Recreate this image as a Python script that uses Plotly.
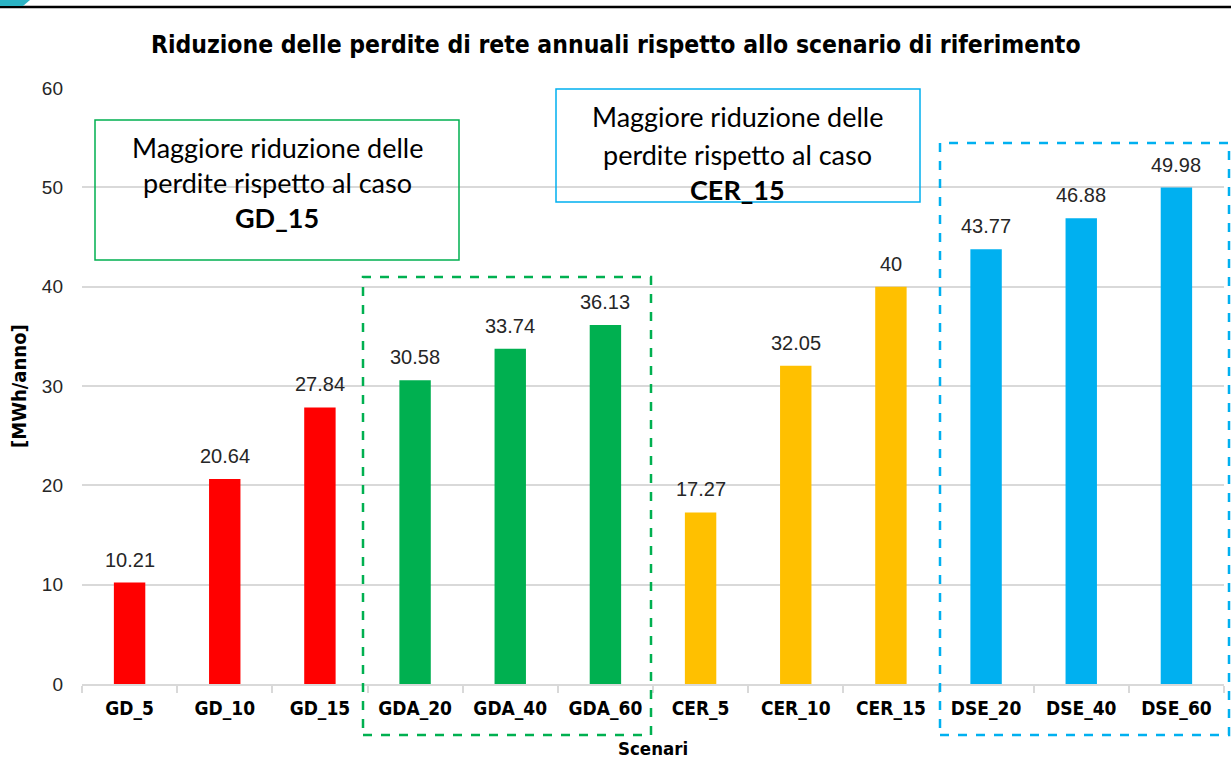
import plotly.graph_objects as go

categories = ["GD_5", "GD_10", "GD_15", "GDA_20", "GDA_40", "GDA_60",
              "CER_5", "CER_10", "CER_15", "DSE_20", "DSE_40", "DSE_60"]
values = [10.21, 20.64, 27.84, 30.58, 33.74, 36.13,
          17.27, 32.05, 40, 43.77, 46.88, 49.98]
value_labels = ["10.21", "20.64", "27.84", "30.58", "33.74", "36.13",
                "17.27", "32.05", "40", "43.77", "46.88", "49.98"]
bar_colors = ["#FF0000"] * 3 + ["#00B050"] * 3 + ["#FFC000"] * 3 + ["#00B0F0"] * 3
y_ticks = [0, 10, 20, 30, 40, 50, 60]

title_text = "Riduzione delle perdite di rete annuali rispetto allo scenario di riferimento"
y_title = "[MWh/anno]"
x_title = "Scenari"
green_note = ["Maggiore riduzione delle", "perdite rispetto al caso", "<b>GD_15</b>"]
blue_note = ["Maggiore riduzione delle", "perdite rispetto al caso", "<b>CER_15</b>"]

COND = "DejaVu Sans Condensed, Roboto, sans-serif"
CAL = "Lato, Carlito, Open Sans, sans-serif"
ARIAL = "Liberation Sans, Arial, sans-serif"

W, H = 1231, 783
L, R, T, B = 82, 7, 88, 99
PW, PH = W - L - R, H - T - B


def px(xp):
    return (xp - L) / PW


def py(yp):
    return (H - B - yp) / PH


fig = go.Figure()
fig.add_trace(go.Bar(
    x=categories, y=values, marker=dict(color=bar_colors, line=dict(width=0)),
    width=0.33, hoverinfo="x+y", showlegend=False,
))

annotations = []
for c, v, lab in zip(categories, values, value_labels):
    annotations.append(dict(
        x=c, y=v, xref="x", yref="y", text=lab, showarrow=False,
        yanchor="bottom", yshift=10,
        font=dict(family=ARIAL, size=20, color="#262626"),
    ))

for txt, yy in zip(green_note, [148, 183, 217]):
    annotations.append(dict(x=px(277), y=py(yy), xref="paper", yref="paper",
                            text=txt, showarrow=False, xanchor="center", yanchor="middle",
                            font=dict(family=CAL, size=27, color="#000000")))
for txt, yy in zip(blue_note, [117, 154, 189]):
    annotations.append(dict(x=px(738), y=py(yy), xref="paper", yref="paper",
                            text=txt, showarrow=False, xanchor="center", yanchor="middle",
                            font=dict(family=CAL, size=27, color="#000000")))

annotations.append(dict(x=px(19), y=0.5, xref="paper", yref="paper", text="<b>" + y_title + "</b>",
                        textangle=-90, showarrow=False, xanchor="center", yanchor="middle",
                        font=dict(family=COND, size=20, color="#000000")))
annotations.append(dict(x=0.5, y=py(748), xref="paper", yref="paper", text="<b>" + x_title + "</b>",
                        showarrow=False, xanchor="center", yanchor="middle",
                        font=dict(family=COND, size=18.5, color="#000000")))
annotations.append(dict(x=px(616), y=py(44), xref="paper", yref="paper", text="<b>" + title_text + "</b>",
                        showarrow=False, xanchor="center", yanchor="middle",
                        font=dict(family=COND, size=24.5, color="#000000")))

shapes = [
    dict(type="line", xref="paper", yref="paper", x0=px(0), x1=px(W), y0=py(7), y1=py(7),
         line=dict(color="#000000", width=2.5)),
    dict(type="path", xref="paper", yref="paper",
         path=f"M {px(0)},{py(0)} L {px(30)},{py(0)} L {px(23)},{py(6)} L {px(0)},{py(6)} Z",
         fillcolor="#2BB3C4", line=dict(width=0)),
    dict(type="rect", xref="paper", yref="paper", x0=px(95), x1=px(459), y0=py(260), y1=py(120),
         line=dict(color="#00B050", width=1.5)),
    dict(type="rect", xref="paper", yref="paper", x0=px(556), x1=px(920), y0=py(202), y1=py(89),
         line=dict(color="#00B0F0", width=1.5)),
    dict(type="rect", xref="paper", yref="paper", x0=px(363), x1=px(651), y0=py(735), y1=py(277),
         line=dict(color="#00B050", width=2.5, dash="dash")),
    dict(type="rect", xref="paper", yref="paper", x0=px(940), x1=px(1229), y0=py(735), y1=py(143),
         line=dict(color="#00B0F0", width=2.5, dash="dash")),
]

fig.update_layout(
    width=W, height=H,
    margin=dict(l=L, r=R, t=T, b=B, pad=0),
    paper_bgcolor="white", plot_bgcolor="white",
    annotations=annotations, shapes=shapes,
    bargap=0.67,
    xaxis=dict(
        type="category", showgrid=False, showline=True, linecolor="#D9D9D9", linewidth=2,
        ticks="outside", tickson="boundaries", ticklen=7, tickcolor="#D9D9D9", tickwidth=2,
        tickfont=dict(family=COND, size=19, color="#000000"),
        ticklabelstandoff=6, tickprefix="<b>", ticksuffix="</b>",
        range=[-0.5, 11.5], fixedrange=True,
    ),
    yaxis=dict(
        range=[0, 60], tickvals=y_ticks, showgrid=True, gridcolor="#D9D9D9", gridwidth=1.5,
        zeroline=False, showline=False, ticks="",
        tickfont=dict(family=ARIAL, size=19, color="#262626"),
        ticklabelstandoff=18,
    ),
)

fig.write_html("out.html",
               config={"displayModeBar": False},
               post_script="document.body.style.margin='0';document.body.style.padding='0';")
